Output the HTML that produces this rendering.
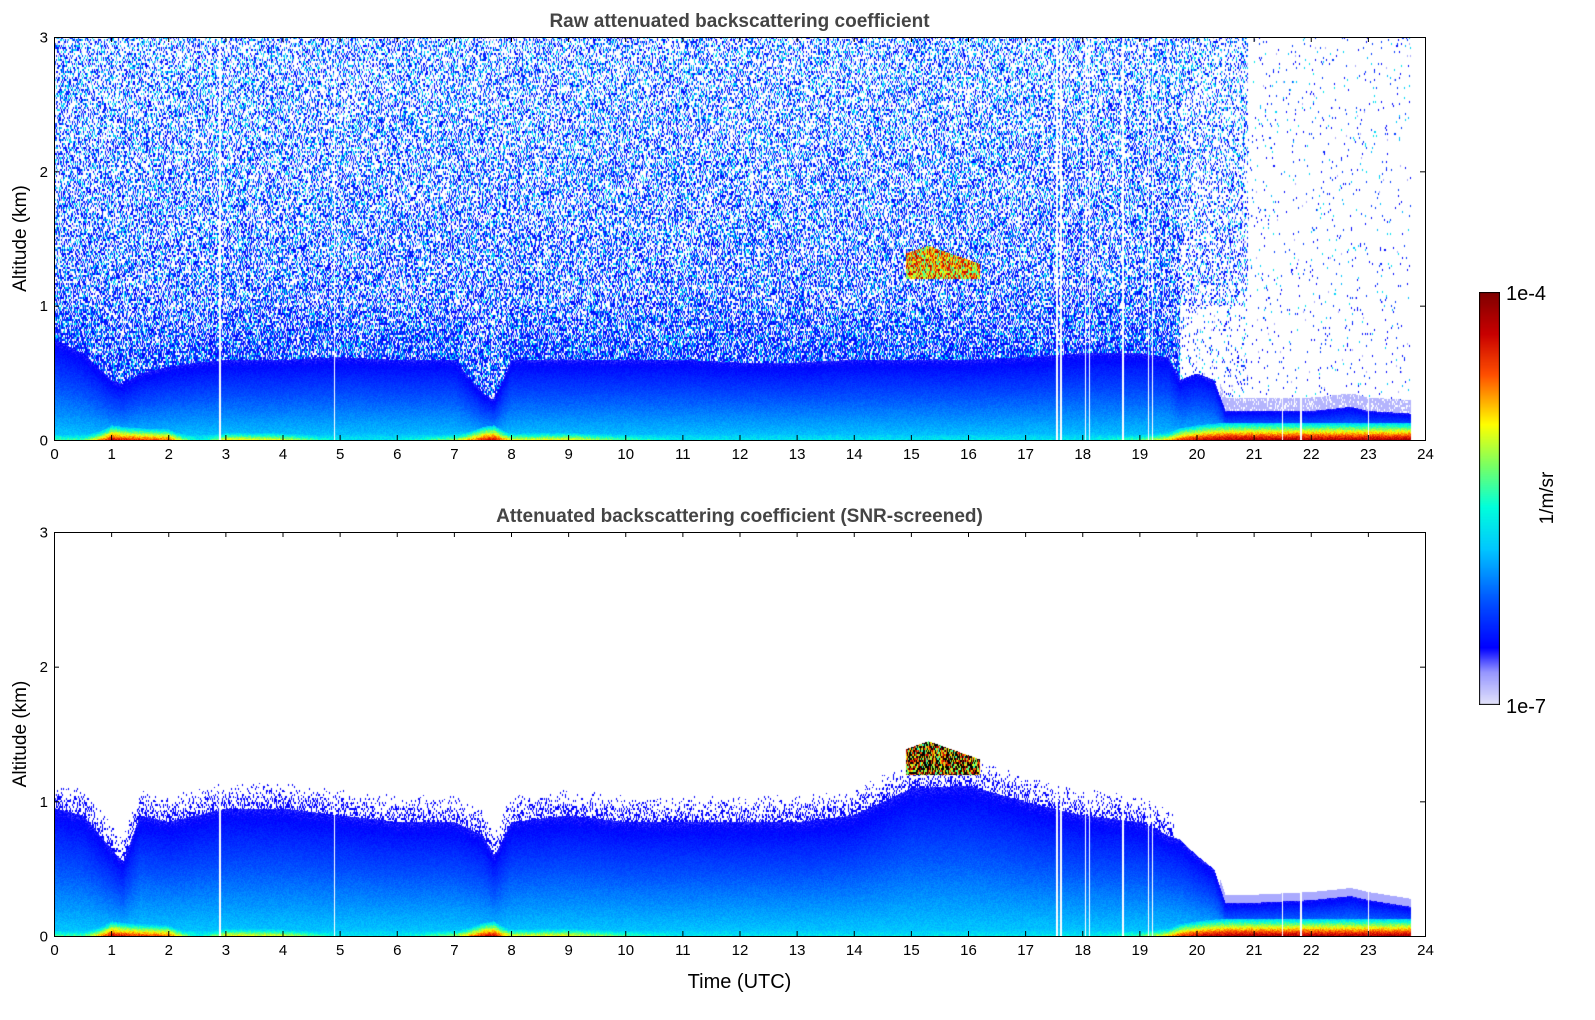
<!DOCTYPE html>
<html><head><meta charset="utf-8">
<style>
body{margin:0;background:#fff;width:1595px;height:1020px;overflow:hidden;position:relative;font-family:"Liberation Sans","DejaVu Sans",sans-serif}
canvas{position:absolute}
svg{position:absolute;left:0;top:0}
</style></head><body>
<canvas id="c1" width="1371" height="403" style="left:54px;top:37px"></canvas>
<canvas id="c2" width="1371" height="404" style="left:54px;top:532px"></canvas>
<canvas id="cb" width="21" height="413" style="left:1479px;top:292px"></canvas>
<svg id="ax" width="1595" height="1020"></svg>
<script>
// ---- data ----
const times = [0,0.5,1,1.2,1.5,2,2.5,3,4,5,6,7,7.5,7.7,8,9,10,11,12,13,14,15,16,17,18,19,19.5,19.7,20,20.3,20.5,21,22,22.7,23,23.75];
const rawLayerTop = [0.75,0.65,0.45,0.42,0.5,0.55,0.58,0.6,0.6,0.62,0.6,0.6,0.35,0.3,0.6,0.6,0.6,0.6,0.58,0.58,0.6,0.6,0.6,0.62,0.65,0.65,0.62,0.45,0.5,0.45,0.22,0.22,0.22,0.25,0.22,0.2];
const snrLayerTop = [0.95,0.9,0.65,0.55,0.9,0.85,0.9,0.95,0.95,0.9,0.85,0.85,0.75,0.6,0.85,0.9,0.85,0.85,0.85,0.85,0.9,1.1,1.12,1.0,0.9,0.85,0.75,0.72,0.6,0.5,0.25,0.25,0.27,0.3,0.27,0.22];
const surfaceStrength = [0.3,0.3,0.9,0.85,0.8,0.75,0.1,0.55,0.5,0.1,0.1,0.4,0.85,0.9,0.5,0.55,0.3,0.1,0.1,0.1,0.1,0.1,0.1,0.1,0.1,0.3,0.6,0.8,0.9,0.95,0.97,0.97,0.97,0.97,0.97,0.97];
const gapTimes = [2.9,4.9,17.55,17.62,18.05,18.12,18.7,19.15,19.22,21.5,21.82,23.0];
const cloud = {t0:14.9,t1:16.2,h0:1.2,h1:1.45};
const dataEnd = 23.75;
const xTicks = [0,1,2,3,4,5,6,7,8,9,10,11,12,13,14,15,16,17,18,19,20,21,22,23,24];
const yTicks = [0,1,2,3];
// ---- colormap ----
const stops=[[0,[230,230,250]],[0.08,[150,150,255]],[0.14,[0,0,255]],[0.25,[0,80,255]],[0.38,[0,200,255]],[0.48,[0,255,220]],[0.58,[120,255,100]],[0.68,[255,255,0]],[0.8,[255,80,0]],[0.9,[200,0,0]],[1,[128,0,0]]];
function cmap(v){v=Math.max(0,Math.min(1,v));for(let i=1;i<stops.length;i++){if(v<=stops[i][0]){const a=stops[i-1],b=stops[i],f=(v-a[0])/(b[0]-a[0]);return a[1].map((c,k)=>c+(b[1][k]-c)*f);}}return stops[stops.length-1][1];}
function interp(arr,t){for(let i=1;i<times.length;i++){if(t<=times[i]){const f=(t-times[i-1])/(times[i]-times[i-1]);return arr[i-1]+(arr[i]-arr[i-1])*f;}}return arr[arr.length-1];}
function hash(a,b){let h=(a*374761393+b*668265263)>>>0;h=((h^(h>>>13))*1274126177)>>>0;return ((h^(h>>>16))>>>0)/4294967296;}
const X0=54,X1=1425,W=1371;
function xs(t){return t/24*W;}
function render(id,H,mode){
 const c=document.getElementById(id),ctx=c.getContext('2d');const img=ctx.createImageData(W,H);const d=img.data;
 for(let x=0;x<W;x++){const t=x/W*24;
  let gap=t>dataEnd; for(const g of gapTimes){if(Math.abs(xs(g)-x)<0.8)gap=true;}
  const L=interp(mode?snrLayerTop:rawLayerTop,t),S=interp(surfaceStrength,t);
  for(let y=0;y<H;y++){const h=(H-y)/H*3;let v=-1;
   if(!gap){
    const cx=x,cy=y>>1,r=hash(cx,cy+mode*999);
    if(h<L){v=0.39-0.26*(h/L)+ (hash(x,y)-0.5)*0.04;}
    else if(mode===0){
      const late=t>20.9;let p;
      if(late)p=0.03;else if(t>19.7)p=h<1?0.1:0.3;
      else{const hh=h-L;p=hh<0.4?0.8-0.5*hh:0.55-0.08*(h-1);}
      if(r<p){const q=hash(cy*3+1,cx*7+2);const cyf=Math.min(0.4,0.08+0.12*h);
        v=q<0.5-cyf*0.5?0.15:(q<0.78-cyf*0.5?0.22:(q<0.92?0.36+0.08*hash(cx,cy*5):0.06));}
      if(t>20.4&&h<L+0.1&&r<0.8)v=0.05;
    } else {
      if(h<L+0.2&&r<0.5*(1-(h-L)/0.2)&&t<19.6)v=0.14;
      else if(h<L+0.06&&t>20.4)v=0.06;
    }
    const th=0.04+0.1*S*S*S;
    if(h<th){const f=1-h/th;v=Math.max(v,0.38+S*0.6*f+(hash(x,y+3)-0.5)*0.1);}
    if(t>cloud.t0&&t<cloud.t1&&h>cloud.h0&&h<cloud.h1-0.15*Math.abs(t-15.3)){v=0.5+hash(cx,cy)*0.45;if(mode&&hash(cy,cx)>0.6)v=-2;}
   }
   const i=(y*W+x)*4;
   if(v===-2){d[i]=0;d[i+1]=0;d[i+2]=0;}else if(v<0){d[i]=d[i+1]=d[i+2]=255;}else{const col=cmap(v);d[i]=col[0];d[i+1]=col[1];d[i+2]=col[2];}
   d[i+3]=255;}}
 ctx.putImageData(img,0,0);
}
render('c1',403,0);render('c2',404,1);
(function(){const c=document.getElementById('cb'),ctx=c.getContext('2d');for(let y=0;y<413;y++){const col=cmap(1-y/413);ctx.fillStyle=`rgb(${col.map(Math.round).join(',')})`;ctx.fillRect(0,y,21,1);}ctx.strokeStyle='#000';ctx.strokeRect(0.5,0.5,20,412);})();
// ---- axes ----
const svg=document.getElementById('ax');const NS='http://www.w3.org/2000/svg';
function el(tag,attrs,txt){const e=document.createElementNS(NS,tag);for(const k in attrs)e.setAttribute(k,attrs[k]);if(txt!==undefined)e.textContent=txt;svg.appendChild(e);return e;}
function axes(top,bot,title,name,xlabel){
 const fr=el('rect',{x:X0+0.5,y:top+0.5,width:W,height:bot-top,fill:'none',stroke:'#000','stroke-width':1});
 
 const tt=el('text',{x:(X0+X1)/2,y:top-10,'text-anchor':'middle','font-size':19,'font-weight':'bold',fill:'#444'},title);
 
 for(const t of xTicks){const x=X0+xs(t)+0.5;
  el('line',{x1:x,x2:x,y1:bot,y2:bot-5,stroke:'#000'});el('line',{x1:x,x2:x,y1:top,y2:top+5,stroke:'#000'});
  const lb=el('text',{x:x,y:bot+19,'text-anchor':'middle','font-size':15},String(t));
  }
 for(const v of yTicks){const y=bot-(bot-top)*v/3+0.5;
  el('line',{x1:X0,x2:X0+5,y1:y,y2:y,stroke:'#000'});el('line',{x1:X1,x2:X1-5,y1:y,y2:y,stroke:'#000'});
  const lb=el('text',{x:X0-6,y:y+5,'text-anchor':'end','font-size':15},String(v));
  }
 const yl=el('text',{x:26,y:(top+bot)/2,'text-anchor':'middle','font-size':19,transform:`rotate(-90 26 ${(top+bot)/2})`},'Altitude (km)');
 
 if(xlabel){const xl=el('text',{x:(X0+X1)/2,y:bot+52,'text-anchor':'middle','font-size':20},xlabel);
  }
}
axes(37,440,'Raw attenuated backscattering coefficient','top-plot');
axes(532,936,'Attenuated backscattering coefficient (SNR-screened)','bottom-plot','Time (UTC)');
const c1=el('text',{x:1506,y:300,'font-size':20},'1e-4');
const c2=el('text',{x:1506,y:713,'font-size':20},'1e-7');
const c3=el('text',{x:1553,y:498,'text-anchor':'middle','font-size':19,transform:'rotate(-90 1553 498)'},'1/m/sr');
</script>
</body></html>
